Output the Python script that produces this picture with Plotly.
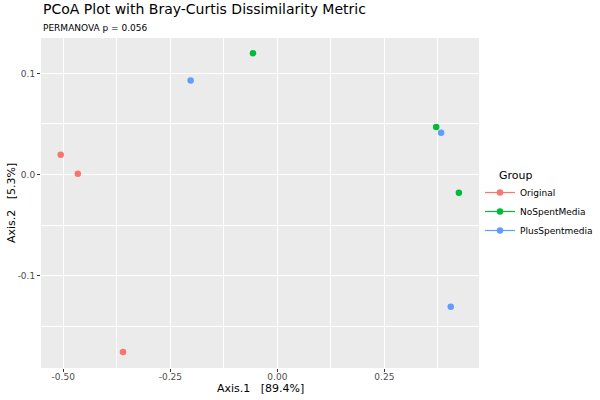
import plotly.graph_objects as go

groups = ["Original", "NoSpentMedia", "PlusSpentmedia"]
colors = {"Original": "#F8766D", "NoSpentMedia": "#00BA38", "PlusSpentmedia": "#619CFF"}

axis1 = {
    "Original": [-0.506, -0.466, -0.3605],
    "NoSpentMedia": [-0.0568, 0.371, 0.424],
    "PlusSpentmedia": [-0.2025, 0.3825, 0.405],
}
axis2 = {
    "Original": [0.0195, 0.0007, -0.1755],
    "NoSpentMedia": [0.120, 0.0469, -0.0181],
    "PlusSpentmedia": [0.093, 0.0413, -0.1307],
}

x_tick_vals = [-0.50, -0.25, 0.00, 0.25]
x_tick_text = ["-0.50", "-0.25", "0.00", "0.25"]
y_tick_vals = [-0.1, 0.0, 0.1]
y_tick_text = ["-0.1", "0.0", "0.1"]

fig = go.Figure()
for g in groups:
    fig.add_trace(go.Scatter(
        x=axis1[g], y=axis2[g], mode="markers", name=g,
        marker=dict(color=colors[g], size=6.5), showlegend=False,
    ))
    fig.add_trace(go.Scatter(
        x=[None], y=[None], mode="lines+markers", name=g,
        marker=dict(color=colors[g], size=6.5),
        line=dict(color=colors[g], width=1.2), showlegend=True,
    ))

font = "DejaVu Sans"
W = 600 - 41  # paper width in px
H = 400 - 38 - 32
axis_common = dict(
    showgrid=True, gridcolor="white", gridwidth=1.1,
    zeroline=False, showline=False, automargin=False,
    ticks="outside", ticklen=3, tickcolor="#333333", tickwidth=1,
    tickfont=dict(family=font, size=9, color="#4D4D4D"),
    minor=dict(showgrid=True, gridcolor="white", gridwidth=0.5),
)

fig.update_layout(
    width=600, height=400,
    margin=dict(l=41, r=0, t=38, b=32, pad=0),
    paper_bgcolor="white", plot_bgcolor="#EBEBEB",
    font=dict(family=font, color="black"),
    xaxis=dict(domain=[0, 438 / W], range=[-0.552, 0.471],
               tickvals=x_tick_vals, ticktext=x_tick_text,
               minor_tickvals=[-0.375, -0.125, 0.125, 0.375], minor_ticks="",
               ticklabelstandoff=-3,
               **axis_common),
    yaxis=dict(range=[-0.1914, 0.135], tickvals=y_tick_vals, ticktext=y_tick_text,
               minor_tickvals=[-0.15, -0.05, 0.05], minor_ticks="",
               **axis_common),
    legend=dict(
        x=(480 - 41) / W, xanchor="left", y=(368 - 178) / H, yanchor="top",
        font=dict(size=9, family=font), bgcolor="rgba(0,0,0,0)",
        tracegroupgap=0, itemwidth=30,
    ),
)
fig.add_annotation(text="Axis.1   [89.4%]", x=(260 - 41) / W, xref="paper", xanchor="center",
                   y=(368 - 388) / H, yref="paper", yanchor="middle",
                   showarrow=False, font=dict(size=11, family=font, color="black"))
fig.add_annotation(text="Axis.2   [5.3%]", x=(11 - 41) / W, xref="paper", xanchor="center",
                   y=0.5, yref="paper", yanchor="middle", textangle=-90,
                   showarrow=False, font=dict(size=11, family=font, color="black"))
fig.add_annotation(text="Group", x=(497 - 41) / W, xref="paper", xanchor="left",
                   y=(368 - 175) / H, yref="paper", yanchor="middle",
                   showarrow=False, font=dict(size=11, family=font, color="black"))
fig.add_annotation(text="PCoA Plot with Bray-Curtis Dissimilarity Metric",
                   x=0, xref="paper", xanchor="left", y=1.0, yref="paper", yanchor="bottom",
                   yshift=19, showarrow=False, font=dict(size=14, family=font, color="black"))
fig.add_annotation(text="PERMANOVA p = 0.056",
                   x=0, xref="paper", xanchor="left", y=1.0, yref="paper", yanchor="bottom",
                   yshift=3, showarrow=False, font=dict(size=9, family=font, color="black"))

fig.write_html("out.html", config={"displayModeBar": False},
               post_script="document.body.style.margin='0';")
